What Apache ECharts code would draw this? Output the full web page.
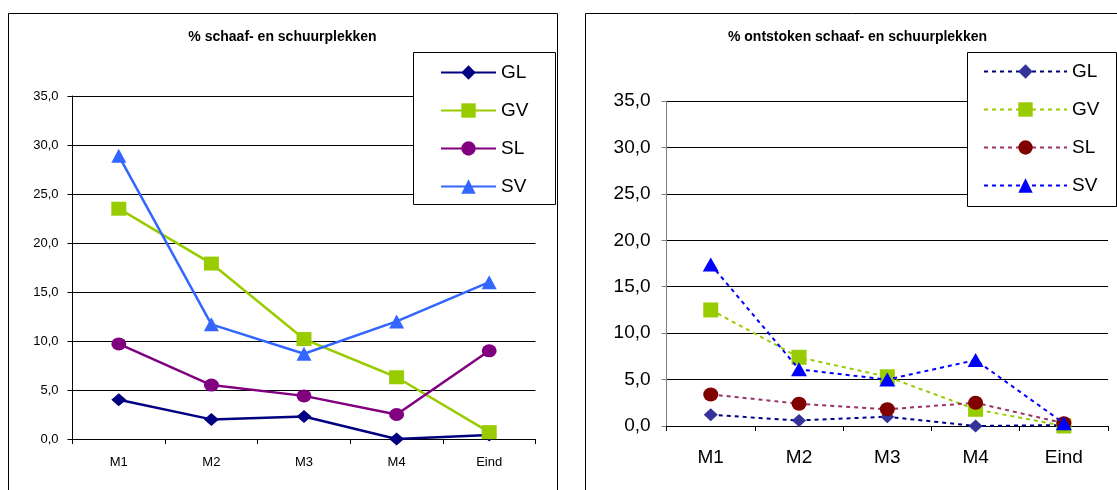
<!DOCTYPE html>
<html><head><meta charset="utf-8">
<script src="https://cdn.jsdelivr.net/npm/echarts@6/dist/echarts.min.js"></script>
<style>
html,body{margin:0;padding:0;background:#fff;width:1117px;height:490px;overflow:hidden}
#a{position:absolute;left:0;top:0;width:571px;height:490px}
#b{position:absolute;left:571px;top:0;width:546px;height:490px}
</style>
</head><body><div id="a"></div><div id="b"></div>
<script>
// ---- data ----
const categories = ['M1', 'M2', 'M3', 'M4', 'Eind'];
const seriesNames = ['GL', 'GV', 'SL', 'SV'];
const yTicks = [0, 5, 10, 15, 20, 25, 30, 35];
const leftTitle = '% schaaf- en schuurplekken';
const rightTitle = '% ontstoken schaaf- en schuurplekken';

const leftGL = [4.0, 2.0, 2.3, 0.0, 0.4];
const leftGV = [23.5, 17.9, 10.2, 6.3, 0.7];
const leftSL = [9.7, 5.5, 4.4, 2.5, 9.0];
const leftSV = [28.9, 11.7, 8.7, 12.0, 16.0];

const rightGL = [1.2, 0.6, 1.0, 0.0, 0.1];
const rightGV = [12.5, 7.4, 5.3, 1.8, 0.0];
const rightSL = [3.4, 2.4, 1.8, 2.5, 0.3];
const rightSV = [17.4, 6.1, 5.0, 7.1, 0.3];

// ---- styling ----
const FONT = "'Liberation Sans', Arial, sans-serif";
const fmt = v => v.toFixed(1).replace('.', ',');

function build(cfg) {
  const series = cfg.data.map((d, i) => {
    const s = cfg.styles[i];
    return {
      name: seriesNames[i], type: 'line', data: d,
      symbol: s.symbol, symbolSize: s.size,
      itemStyle: { color: s.marker, borderWidth: 0 },
      lineStyle: { color: s.line, width: cfg.lineWidth, type: cfg.lineType },
      emphasis: { disabled: true }, animation: false, z: 2 + i
    };
  });
  return {
    animation: false,
    grid: { left: cfg.grid.left, top: cfg.grid.top, width: cfg.grid.width, height: cfg.grid.height, containLabel: false },
    xAxis: {
      type: 'category', data: categories, boundaryGap: true,
      axisLine: { show: true, lineStyle: { color: cfg.xAxisColor, width: 1 } },
      axisTick: { show: true, length: 5, lineStyle: { color: cfg.xAxisColor } },
      axisLabel: { color: '#000', fontFamily: FONT, fontSize: cfg.fontSize, margin: cfg.xMargin },
      splitLine: { show: false }
    },
    yAxis: {
      type: 'value', min: yTicks[0], max: yTicks[yTicks.length - 1], interval: yTicks[1] - yTicks[0],
      axisLine: { show: true, lineStyle: { color: cfg.yAxisColor, width: 1 } },
      axisTick: { show: true, length: 5, lineStyle: { color: cfg.yAxisColor } },
      axisLabel: { color: '#000', fontFamily: FONT, fontSize: cfg.fontSize, margin: cfg.yMargin, formatter: fmt },
      splitLine: { show: true, lineStyle: { color: '#000', width: 1 } }
    },
    legend: {
      orient: 'vertical', left: cfg.legend.left, top: cfg.legend.top,
      itemWidth: cfg.legend.itemWidth, itemHeight: 18, itemGap: cfg.legend.gap,
      padding: 0, selectedMode: false,
      textStyle: { color: '#000', fontFamily: FONT, fontSize: 19 },
      data: seriesNames
    },
    graphic: [
      { type: 'rect', z: 0, silent: true,
        shape: { x: cfg.box.x + 0.5, y: cfg.box.y + 0.5, width: cfg.box.w, height: cfg.box.h },
        style: { fill: null, stroke: '#000', lineWidth: 1 } },
      { type: 'rect', z: 3, zlevel: 0, silent: true,
        shape: { x: cfg.lbox.x + 0.5, y: cfg.lbox.y + 0.5, width: cfg.lbox.w, height: cfg.lbox.h },
        style: { fill: '#fff', stroke: '#000', lineWidth: 1 } },
      { type: 'text', z: 5, silent: true, x: cfg.title.x, y: cfg.title.y,
        style: { text: cfg.title.text, fill: '#000', font: 'bold 14px ' + FONT, textAlign: 'center', textVerticalAlign: 'middle' } }
    ],
    series: series
  };
}

const leftCfg = {
  data: [leftGL, leftGV, leftSL, leftSV],
  styles: [
    { symbol: 'diamond', size: [15, 13], marker: '#000080', line: '#000080' },
    { symbol: 'rect', size: [15, 14], marker: '#99CC00', line: '#99CC00' },
    { symbol: 'circle', size: [15, 13], marker: '#800080', line: '#800080' },
    { symbol: 'triangle', size: [15, 14], marker: '#3366FF', line: '#3366FF' }
  ],
  lineWidth: 2.5, lineType: 'solid',
  grid: { left: 72.5, top: 96, width: 463, height: 343 },
  xAxisColor: '#000', yAxisColor: '#000',
  fontSize: 13, xMargin: 17, yMargin: 14,
  legend: { left: 440, top: 63, itemWidth: 55, gap: 19 },
  box: { x: 8, y: 13, w: 549, h: 500 },
  lbox: { x: 413, y: 52, w: 142, h: 152 },
  title: { x: 282.5, y: 37, text: leftTitle }
};

const rightCfg = {
  data: [rightGL, rightGV, rightSL, rightSV],
  styles: [
    { symbol: 'diamond', size: [14, 13], marker: '#333399', line: '#000080' },
    { symbol: 'rect', size: [15, 15], marker: '#99CC00', line: '#99CC00' },
    { symbol: 'circle', size: [15, 14], marker: '#800000', line: '#993366' },
    { symbol: 'triangle', size: [16, 14], marker: '#0000FF', line: '#0000FF' }
  ],
  lineWidth: 2, lineType: [4, 4],
  grid: { left: 95.6, top: 101, width: 441.4, height: 325 },
  xAxisColor: '#000', yAxisColor: '#808080',
  fontSize: 19, xMargin: 22, yMargin: 16,
  legend: { left: 412, top: 62, itemWidth: 83, gap: 19 },
  box: { x: 14, y: 13, w: 560, h: 500 },
  lbox: { x: 396, y: 52, w: 149, h: 154 },
  title: { x: 286.5, y: 37, text: rightTitle }
};

echarts.init(document.getElementById('a'), null, { renderer: 'canvas' }).setOption(build(leftCfg));
echarts.init(document.getElementById('b'), null, { renderer: 'canvas' }).setOption(build(rightCfg));
</script>
</body></html>
